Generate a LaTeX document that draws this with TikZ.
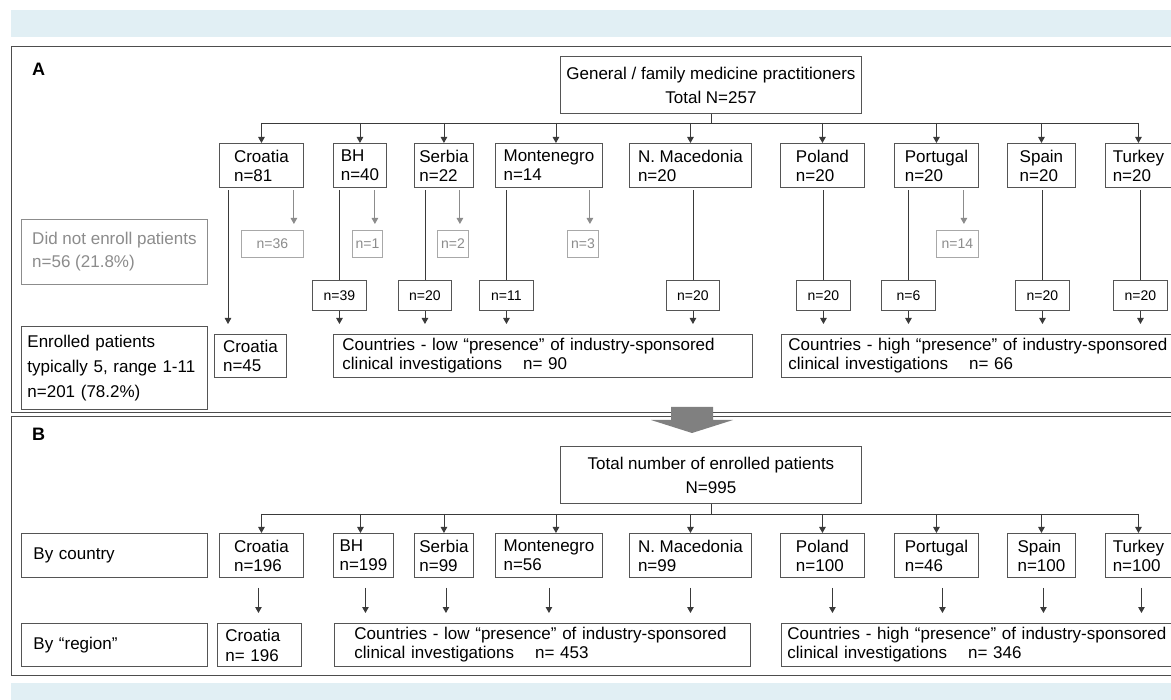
\documentclass[tikz,border=0pt]{standalone}
\usepackage{fontspec}
\setmainfont{Liberation Sans}
\usetikzlibrary{arrows.meta,calc}
\definecolor{band}{HTML}{E1EFF4}
\definecolor{framec}{HTML}{4D4D4D}
\definecolor{bx}{HTML}{555555}
\definecolor{lnc}{HTML}{3A3A3A}
\definecolor{gtext}{HTML}{8C8C8C}
\definecolor{gline}{HTML}{A8A8A8}
\definecolor{bigarrow}{HTML}{808080}
\begin{document}
\begin{tikzpicture}[x=1pt,y=-1pt,
  box/.style={draw=bx, line width=0.9pt, fill=white, inner sep=0pt, anchor=north west, align=left, font=\fontsize{17}{19}\selectfont},
  nbox/.style={box, align=center, minimum height=30pt, font=\fontsize{14}{16}\selectfont},
  gbox/.style={nbox, draw=gline, text=gtext, minimum height=27pt},
  lbox/.style={box, minimum width=186pt},
  ln/.style={draw=lnc, line width=0.9pt},
  arr/.style={ln, -{Triangle[length=6pt,width=6.5pt]}},
  garr/.style={draw=gtext, line width=0.9pt, -{Triangle[length=6pt,width=6.5pt]}},
  panel/.style={font=\fontsize{18}{18}\selectfont\bfseries, anchor=base west, inner sep=0pt}
]
\useasboundingbox (0,0) rectangle (1171,700);
\clip (0,0) rectangle (1171,700);
\fill[white] (0,0) rectangle (1171,700);
\fill[band] (11,10) rectangle (1190,37);
\fill[band] (11,683) rectangle (1190,710);
\draw[framec, line width=1pt] (11,47) rectangle (1190,413);
\draw[framec, line width=1pt] (11,417) rectangle (1190,675);

% ---------------- Panel A ----------------
\node[panel] (labA) at (32,76) {A};
\node[box, align=center, minimum width=301pt, minimum height=57pt, font=\fontsize{17}{24}\selectfont] (topA) at (560,56) {General / family medicine practitioners\\Total N=257};

\node[box, minimum width=84pt, minimum height=44pt] (croA) at (219,143) {Croatia\\n=81};
\node[box, minimum width=53pt, minimum height=44pt] (bhA) at (333,143) {BH\\n=40};
\node[box, minimum width=59pt, minimum height=44pt] (serA) at (414,143) {Serbia\\n=22};
\node[box, minimum width=107pt, minimum height=44pt] (monA) at (495,143) {Montenegro\\n=14};
\node[box, minimum width=122pt, minimum height=44pt] (macA) at (629,143) {N. Macedonia\\n=20};
\node[box, minimum width=84pt, minimum height=44pt] (polA) at (780,143) {Poland\\n=20};
\node[box, minimum width=84pt, minimum height=44pt] (porA) at (894,143) {Portugal\\n=20};
\node[box, minimum width=68pt, minimum height=44pt] (spaA) at (1007,143) {Spain\\n=20};
\node[box, minimum width=66pt, minimum height=44pt] (turA) at (1105,143) {Turkey\\n=20};

\coordinate (busA) at (715,123);
\draw[ln] (topA.south) -- (topA.south |- busA);
\draw[ln] (croA.north |- busA) -- (turA.north |- busA);
\foreach \n in {croA,bhA,serA,macA,polA,porA,spaA,turA}
  \draw[arr] (\n.north |- busA) -- (\n.north);
\coordinate (monTa) at ([xshift=7pt]monA.north);
\draw[arr] (monTa |- busA) -- (monTa);

% left labels
\node[lbox, draw=gtext, text=gtext, minimum height=65pt, font=\fontsize{17}{23}\selectfont] (dne) at (21,219) {Did not enroll patients\\n=56 (21.8\%)};
\node[lbox, text width=174pt, inner xsep=6pt, minimum height=83pt, font=\fontsize{17}{25}\selectfont] (enr) at (21,326) {Enrolled patients\\typically 5, range 1-11\\n=201 (78.2\%)};

% gray boxes
\node[gbox, minimum width=62pt] (g36) at (241,230) {n=36};
\node[gbox, minimum width=30pt] (g1) at (352,230) {n=1};
\node[gbox, minimum width=31pt] (g2) at (437,230) {n=2};
\node[gbox, minimum width=31pt] (g3) at (567,230) {n=3};
\node[gbox, minimum width=42pt] (g14) at (936,230) {n=14};

\coordinate (g36s) at ([xshift=-10pt]croA.south east);
\coordinate (g1s) at ([xshift=-12pt]bhA.south east);
\coordinate (g2s) at ([xshift=-14pt]serA.south east);
\coordinate (g3s) at ([xshift=-13pt]monA.south east);
\coordinate (g14s) at ([xshift=-15pt]porA.south east);
\draw[garr, shorten <=2.5pt, shorten >=6pt] (g36s) -- (g36s |- g36.north);
\draw[garr, shorten <=2.5pt, shorten >=6pt] (g1s) -- (g1s |- g1.north);
\draw[garr, shorten <=2.5pt, shorten >=6pt] (g2s) -- (g2s |- g2.north);
\draw[garr, shorten <=2.5pt, shorten >=6pt] (g3s) -- (g3s |- g3.north);
\draw[garr, shorten <=2.5pt, shorten >=6pt] (g14s) -- (g14s |- g14.north);

% dark n boxes
\node[nbox, minimum width=54pt] (n39) at (312,280) {n=39};
\node[nbox, minimum width=53pt] (n20s) at (398,280) {n=20};
\node[nbox, minimum width=54pt] (n11) at (479,280) {n=11};
\node[nbox, minimum width=53pt] (n20m) at (666,280) {n=20};
\node[nbox, minimum width=54pt] (n20p) at (796,280) {n=20};
\node[nbox, minimum width=54pt] (n6) at (881,280) {n=6};
\node[nbox, minimum width=54pt] (n20e) at (1015,280) {n=20};
\node[nbox, minimum width=54pt] (n20t) at (1113,280) {n=20};

\draw[ln, shorten <=2.5pt] (bhA.south -| n39.north) -- (n39.north);
\draw[ln, shorten <=2.5pt] (serA.south -| n20s.north) -- (n20s.north);
\draw[ln, shorten <=2.5pt] (monA.south -| n11.north) -- (n11.north);
\draw[ln, shorten <=2.5pt] (macA.south -| n20m.north) -- (n20m.north);
\draw[ln, shorten <=2.5pt] (polA.south -| n20p.north) -- (n20p.north);
\draw[ln, shorten <=2.5pt] (porA.south -| n6.north) -- (n6.north);
\draw[ln, shorten <=2.5pt] (spaA.south -| n20e.north) -- (n20e.north);
\draw[ln, shorten <=2.5pt] (turA.south -| n20t.north) -- (n20t.north);

% region boxes A
\node[box, minimum width=72pt, minimum height=43pt] (croE) at (214,334) {Croatia\\n=45};
\node[box, text width=401pt, inner xsep=9pt, minimum height=43pt] (lowA) at (333,334) {Countries - low “presence” of industry-sponsored\\clinical investigations\hspace{21pt}n= 90};
\node[box, text width=400pt, inner xsep=7pt, minimum height=43pt] (highA) at (781,334) {Countries - high “presence” of industry-sponsored\\clinical investigations\hspace{21pt}n= 66};

\coordinate (croL) at ([xshift=9pt]croA.south west);
\draw[arr, shorten <=2.5pt, shorten >=10pt] (croL) -- (croL |- croE.north);
\foreach \n/\r in {n39/lowA,n20s/lowA,n11/lowA,n20m/lowA,n20p/highA,n6/highA,n20e/highA,n20t/highA}
  \draw[arr, shorten >=10pt] (\n.south) -- (\n.south |- \r.north);

% big arrow between panels
\fill[bigarrow] (671,407) -- (713,407) -- (713,420) -- (733,420) -- (692,433) -- (651,420) -- (671,420) -- cycle;

% ---------------- Panel B ----------------
\node[panel] (labB) at (32,441) {B};
\node[box, align=center, minimum width=301pt, minimum height=57pt, font=\fontsize{17}{24}\selectfont] (topB) at (560,446) {Total number of enrolled patients\\N=995};

\node[box, minimum width=84pt, minimum height=44pt] (croB) at (219,533) {Croatia\\n=196};
\node[box, minimum width=60pt, minimum height=44pt] (bhB) at (333,533) {BH\\n=199};
\node[box, minimum width=59pt, minimum height=44pt] (serB) at (414,533) {Serbia\\n=99};
\node[box, minimum width=107pt, minimum height=44pt] (monB) at (495,533) {Montenegro\\n=56};
\node[box, minimum width=122pt, minimum height=44pt] (macB) at (629,533) {N. Macedonia\\n=99};
\node[box, minimum width=84pt, minimum height=44pt] (polB) at (780,533) {Poland\\n=100};
\node[box, minimum width=84pt, minimum height=44pt] (porB) at (894,533) {Portugal\\n=46};
\node[box, minimum width=68pt, minimum height=44pt] (spaB) at (1007,533) {Spain\\n=100};
\node[box, minimum width=66pt, minimum height=44pt] (turB) at (1105,533) {Turkey\\n=100};

\coordinate (busB) at (715,514);
\draw[ln] (topB.south) -- (topB.south |- busB);
\draw[ln] (croB.north |- busB) -- (turB.north |- busB);
\foreach \n in {croB,serB,macB,polB,porB,spaB,turB}
  \draw[arr] (\n.north |- busB) -- (\n.north);
\coordinate (bhTb) at ([xshift=-3pt]bhB.north);
\draw[arr] (bhTb |- busB) -- (bhTb);
\coordinate (monTb) at ([xshift=7pt]monB.north);
\draw[arr] (monTb |- busB) -- (monTb);

\node[lbox, text width=162pt, inner xsep=12pt, minimum height=44pt] (byc) at (21,533) {By country};
\node[lbox, text width=162pt, inner xsep=12pt, minimum height=43pt] (byr) at (21,623) {By “region”};

\node[box, text width=68pt, inner xsep=8pt, minimum height=43pt, font=\fontsize{17}{20}\selectfont] (croR) at (217,623) {Croatia\\n= 196};
\node[box, text width=376pt, inner xsep=20pt, minimum height=43pt] (lowB) at (334,623) {Countries - low “presence” of industry-sponsored\\clinical investigations\hspace{21pt}n= 453};
\node[box, text width=400pt, inner xsep=6pt, minimum height=43pt] (highB) at (781,623) {Countries - high “presence” of industry-sponsored\\clinical investigations\hspace{21pt}n= 346};

\foreach \n/\r/\s in {croB/croR/-3pt,bhB/lowB/2pt,serB/lowB/2pt,monB/lowB/0pt,macB/lowB/0pt,polB/highB/10pt,porB/highB/6pt,spaB/highB/2pt,turB/highB/3pt}{
  \coordinate (\n d) at ([xshift=\s]\n.south);
  \draw[arr, shorten <=10pt, shorten >=10pt] (\n d) -- (\n d |- \r.north);
}
\end{tikzpicture}
\end{document}
